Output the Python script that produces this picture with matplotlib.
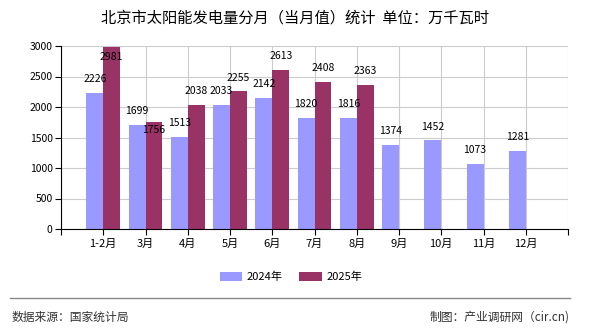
import matplotlib
matplotlib.use("Agg")
import matplotlib.pyplot as plt
from matplotlib.lines import Line2D

plt.rcParams['font.family'] = ['Noto Sans CJK SC', 'DejaVu Sans']

# datos
meses = ['1-2月', '3月', '4月', '5月', '6月', '7月', '8月', '9月', '10月', '11月', '12月']
valores_2024 = [2226, 1699, 1513, 2033, 2142, 1820, 1816, 1374, 1452, 1073, 1281]
valores_2025 = [2981, 1756, 2038, 2255, 2613, 2408, 2363]

color_2024 = '#9999FF'
color_2025 = '#993366'

fig = plt.figure(figsize=(5.9, 3.3), dpi=100)
ax = fig.add_axes([61 / 590, 1 - 229 / 330, 507 / 590, 183 / 330])

ancho = 0.4
x24 = [i - ancho / 2 for i in range(len(valores_2024))]
x25 = [i + ancho / 2 for i in range(len(valores_2025))]
ax.bar(x24, valores_2024, width=ancho, color=color_2024, zorder=2, label='2024年')
ax.bar(x25, valores_2025, width=ancho, color=color_2025, zorder=2, label='2025年')

ax.set_xlim(-1, len(meses))
ax.set_ylim(0, 3000)
ax.set_yticks(range(0, 3001, 500))
ax.set_xticks(range(-1, len(meses) + 1))
ax.set_xticklabels([''] + meses + [''], fontsize=8)
ax.tick_params(axis='y', labelsize=7.5, length=4, pad=2)
ax.tick_params(axis='x', length=4, pad=3)
ax.grid(True, color='#cccccc', linewidth=0.8, zorder=0)
for lado in ['top', 'right']:
    ax.spines[lado].set_visible(False)
ax.spines['left'].set_zorder(3)
ax.spines['bottom'].set_zorder(3)

# etiquetas de valores
for x, v in zip(x24, valores_2024):
    ax.annotate(str(v), (x, v), xytext=(0, 10), textcoords='offset points',
                ha='center', va='center', fontsize=7.5, zorder=4)
for i, (x, v) in enumerate(zip(x25, valores_2025)):
    dy = 10
    if v > 2800:
        dy = -7
    if i == 1:
        dy = -6
    ax.annotate(str(v), (x, v), xytext=(0, dy), textcoords='offset points',
                ha='center', va='center', fontsize=7.5, zorder=4)

fig.text(0.5, 1 - 18 / 330, '北京市太阳能发电量分月（当月值）统计  单位：万千瓦时',
         ha='center', va='center', fontsize=11)

fig.legend(loc='center', bbox_to_anchor=(291 / 590, 1 - 277 / 330), ncol=2,
           frameon=False, fontsize=8, handlelength=2.0, handleheight=0.8,
           columnspacing=1.5, handletextpad=0.4)

fig.add_artist(Line2D([10 / 590, 570 / 590], [1 - 298 / 330, 1 - 298 / 330],
                      color='#888888', linewidth=1))
fig.text(12 / 590, 1 - 317 / 330, '数据来源：国家统计局', ha='left', va='center',
         fontsize=8.5, color='#333333')
fig.text(570 / 590, 1 - 317 / 330, '制图：产业调研网（cir.cn)', ha='right', va='center',
         fontsize=8.5, color='#333333')

fig.savefig('out.png', dpi=100)
